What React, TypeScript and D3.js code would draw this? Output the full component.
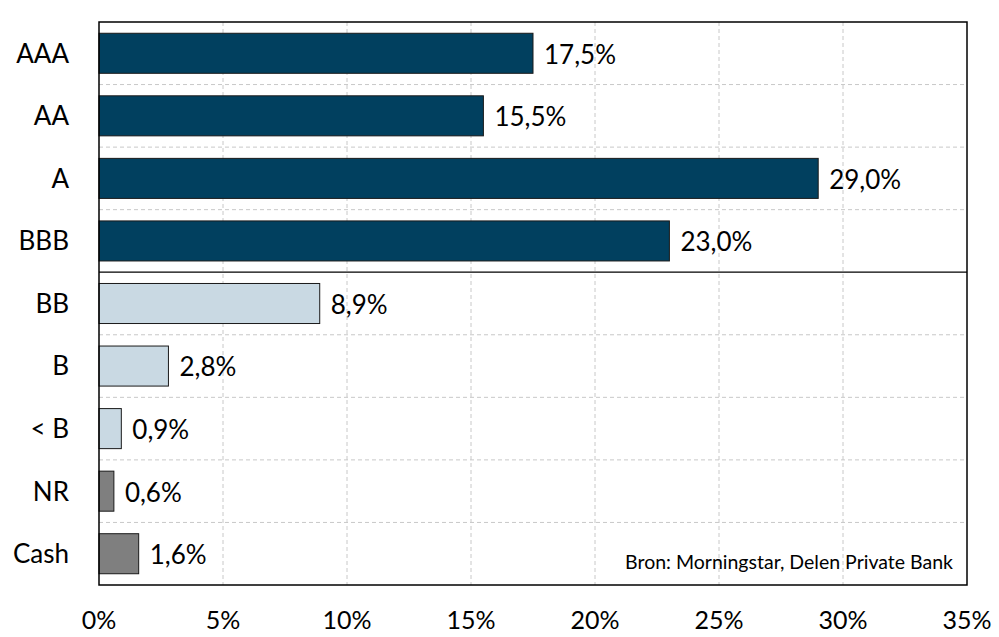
import React from "react";
import * as d3 from "d3";

const categories = ["AAA", "AA", "A", "BBB", "BB", "B", "< B", "NR", "Cash"];
const values = [17.5, 15.5, 29.0, 23.0, 8.9, 2.8, 0.9, 0.6, 1.6];
const groups = ["ig", "ig", "ig", "ig", "hy", "hy", "hy", "other", "other"];
const xTicks = [0, 5, 10, 15, 20, 25, 30, 35];
const colors: Record<string, string> = { ig: "#01405f", hy: "#c9d9e3", other: "#7f7f7f" };

export default function App() {
  const W = 999, H = 637;
  const left = 99, right = 967, top = 22, bottom = 585;
  const x = d3.scaleLinear().domain([0, 35]).range([left, right]);
  const y = d3.scaleBand().domain(categories).range([top, bottom]).paddingInner(0.36).paddingOuter(0.18);
  const step = y.step();
  const font = "Lato, 'Open Sans', sans-serif";
  const fmt = (v: number) => v.toFixed(1).replace(".", ",") + "%";
  return (
    <svg width={W} height={H} style={{ position: "absolute", left: 0, top: 0 }} fontFamily={font}>
      <rect x={0} y={0} width={W} height={H} fill="#fff" />
      {xTicks.slice(1, -1).map((t) => (
        <line key={"v" + t} x1={x(t)} x2={x(t)} y1={top} y2={bottom} stroke="#c8c8c8" strokeDasharray="4,3" strokeWidth={1} />
      ))}
      {categories.slice(1).map((c, i) => {
        const yy = top + step * (i + 1);
        const solid = i + 1 === 4;
        return (
          <line key={"h" + c} x1={left} x2={right} y1={yy} y2={yy}
            stroke={solid ? "#000" : "#c8c8c8"} strokeDasharray={solid ? undefined : "4,3"} strokeWidth={solid ? 1.2 : 1} />
        );
      })}
      {categories.map((c, i) => (
        <g key={c}>
          <rect x={x(0)} y={y(c)!} width={x(values[i]) - x(0)} height={y.bandwidth()}
            fill={colors[groups[i]]} stroke="#1a1a1a" strokeWidth={1} />
          <text x={x(values[i]) + 11} y={y(c)! + y.bandwidth() / 2 + 1} dy="0.36em" fontSize={26} fill="#000">{fmt(values[i])}</text>
          <text x={69} y={y(c)! + y.bandwidth() / 2} dy="0.36em" fontSize={26} textAnchor="end" fill="#000">{c}</text>
        </g>
      ))}
      <rect x={left} y={top} width={right - left} height={bottom - top} fill="none" stroke="#000" strokeWidth={1.5} />
      {xTicks.map((t) => (
        <text key={"t" + t} x={x(t)} y={620} dy="0.36em" fontSize={25} textAnchor="middle" fill="#000">{t}%</text>
      ))}
      <text x={953} y={562} dy="0.36em" fontSize={19.5} textAnchor="end" fill="#000">Bron: Morningstar, Delen Private Bank</text>
    </svg>
  );
}
